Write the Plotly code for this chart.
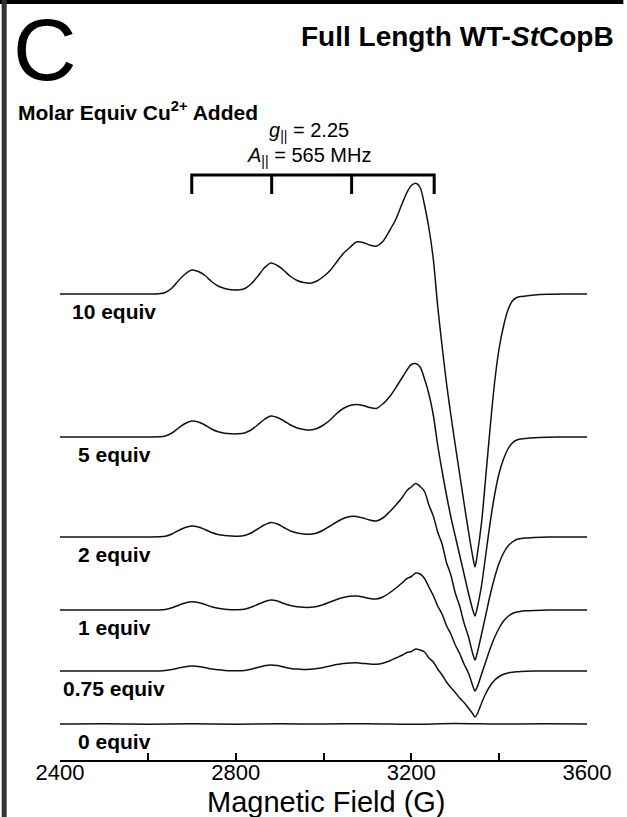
import plotly.graph_objects as go

# ---- EPR spectra: Cu2+ titration of full length WT-StCopB ----
# Magnetic field sampling (G), shared by all spectra
field = [2400, 2500, 2580, 2610,
         2625, 2640, 2655, 2670, 2685, 2700, 2715, 2730, 2745, 2760,
         2775, 2790, 2805, 2820, 2835, 2850, 2865, 2880, 2895, 2910,
         2925, 2940, 2955, 2970, 2985, 3000, 3015, 3030, 3045, 3060,
         3075, 3090, 3105, 3120, 3135, 3150, 3165, 3180,
         3190, 3200, 3210, 3220, 3230, 3240, 3250, 3260, 3270, 3280,
         3290, 3300, 3310, 3320, 3330, 3340, 3345, 3350, 3360, 3370,
         3380, 3390, 3400, 3410, 3420, 3430, 3440, 3450, 3460,
         3480, 3510, 3550, 3600]

# First-derivative signal (arb. units) for each Cu2+ loading
signal_10 = [0, 0, 0, 0,
             0.2, 1.5, 6, 13.5, 20, 24, 22.5, 18.5, 12.5, 8,
             5.5, 4.3, 4, 5.3, 10, 17.5, 26, 31, 28.5, 23.5,
             17.5, 13.5, 11.5, 10.8, 13, 17.5, 23.5, 32, 40.5, 46.5,
             52, 51.5, 49, 47.8, 52.5, 63, 75, 91.5,
             101.5, 108.5, 110.8, 106.5, 89, 66, 35, -12, -52, -89,
             -121, -151, -180, -209, -237, -263, -273, -261, -228, -180,
             -131, -87, -54, -32, -16, -7, -3.5, -2.5, -2,
             -1, -0.3, 0, 0]

signal_5 = [0, 0, 0, 0,
            0.2, 1, 4, 9, 13.5, 16, 15, 12, 8, 5.2,
            3.7, 3.2, 3.2, 4, 7, 12, 17.5, 21, 19.5, 16,
            12, 9, 7.5, 7, 8.5, 12, 17, 23.5, 28.5, 31.5,
            32.5, 31.5, 29.5, 28.5, 33, 40, 49.5, 60,
            67, 72.5, 73.5, 70, 58, 43, 22, -8, -34, -58,
            -80, -99, -118, -137, -156, -173, -179, -171, -148, -116,
            -84, -57, -36, -22, -12, -6, -3, -2, -1.5,
            -0.8, -0.3, 0, 0]

signal_2 = [0, 0, 0, 0,
            0.2, 0.8, 3, 6.5, 9.5, 11, 10, 7.5, 4.5, 2.5,
            1.5, 1, 0.8, 1.5, 4, 8, 12, 14.5, 13, 9.5,
            6, 4, 3, 2.8, 4, 7, 11, 15, 18.5, 20.5,
            20.5, 19, 17, 16, 19, 25, 32, 40,
            46.5, 50, 53.5, 50.5, 45.5, 32, 21, 5, -7, -25.5,
            -38, -56, -69, -86, -99.5, -117, -123, -116, -97, -77,
            -57, -40, -26, -16, -9, -5, -2.5, -1.5, -1,
            -0.5, 0, 0, 0]

signal_1 = [0, 0, 0, 0,
            0.1, 0.6, 2.2, 4.8, 7, 8.3, 7.5, 5.5, 3.3, 1.8,
            0.8, 0.3, 0.2, 0.8, 2.8, 5.5, 8.3, 10, 9, 6.5,
            4.5, 3.2, 2.7, 2.7, 3.6, 5.5, 8, 10.5, 12.5, 13.7,
            14, 13, 11.5, 11, 13, 17, 22, 27.5,
            31.5, 33.5, 37, 36, 31.5, 23, 14.5, 4, -4, -15.5,
            -24, -35, -43.5, -54, -63, -76, -81, -77, -64, -51,
            -38, -27, -18, -11, -6.5, -3.5, -2, -1.2, -0.8,
            -0.4, 0, 0, 0]

signal_075 = [0, 0, 0, 0,
              0, 0.4, 1.4, 3, 4.3, 5, 4.6, 3.4, 2, 1.2,
              0.6, 0.3, 0.2, 0.6, 1.8, 3.5, 5.2, 6, 5.4, 3.9,
              2.6, 1.9, 1.6, 1.7, 2.4, 3.6, 5, 6.4, 7.5, 8.1,
              8.3, 7.6, 6.9, 6.7, 7.8, 10, 13, 16,
              18.5, 19.5, 22, 21, 19, 13, 9, 2, -4, -11,
              -16.5, -21.5, -27, -31.5, -37, -43, -46, -43, -32, -22,
              -14.5, -9, -5.5, -3.2, -2, -1.2, -0.7, -0.4, -0.2,
              0, 0, 0, 0]

# Cu-free protein: flat baseline
field_zero = [2400, 2500, 2600, 2700, 2800, 2900, 3000, 3100, 3200, 3300,
              3400, 3500, 3600]
signal_0 = [0, 0.3, -0.2, 0.2, -0.3, 0.2, 0, 0.3, -0.2, 0.4, -0.1, 0.2, 0]

spectrum_labels = ["10 equiv", "5 equiv", "2 equiv", "1 equiv", "0.75 equiv", "0 equiv"]
spectrum_fields = [field, field, field, field, field, field_zero]
spectrum_signals = [signal_10, signal_5, signal_2, signal_1, signal_075, signal_0]
spectrum_offsets = [466, 323, 223, 150, 89, 36]

for f, s in zip(spectrum_fields, spectrum_signals):
    assert len(f) == len(s)

# Parallel hyperfine quartet (G)
hyperfine_fields = [2700, 2882, 3064, 3252]
stick_top = 585
stick_bottom = 566

major_ticks = [2400, 2800, 3200, 3600]
minor_ticks = [2600, 3000, 3400]

FONT = "Arial, Liberation Sans, sans-serif"
INK = "#111111"

fig = go.Figure()

for fields, sig, off in zip(spectrum_fields, spectrum_signals, spectrum_offsets):
    fig.add_trace(go.Scatter(
        x=fields, y=[v + off for v in sig], mode="lines",
        line=dict(color=INK, width=1.5, shape="spline", smoothing=0.8),
        hoverinfo="skip", showlegend=False))

# stick diagram for the g-parallel hyperfine lines
sx = [hyperfine_fields[0], hyperfine_fields[0], hyperfine_fields[-1], hyperfine_fields[-1]]
sy = [stick_bottom, stick_top, stick_top, stick_bottom]
for f in hyperfine_fields[1:-1]:
    sx += [None, f, f]
    sy += [None, stick_top, stick_bottom]
fig.add_trace(go.Scatter(x=sx, y=sy, mode="lines",
                         line=dict(color="black", width=3),
                         hoverinfo="skip", showlegend=False))

annotations = []
for label, off in zip(spectrum_labels, spectrum_offsets):
    annotations.append(dict(
        x=2523, y=off - 17, xref="x", yref="y", text=f"<b>{label}</b>",
        showarrow=False, xanchor="center", yanchor="middle",
        font=dict(family=FONT, size=21, color="black")))

hf_center = (hyperfine_fields[0] + hyperfine_fields[-1]) / 2
annotations += [
    dict(x=hf_center - 8, y=629, xref="x", yref="y",
         text="<i>g</i><sub>||</sub> = 2.25", showarrow=False,
         xanchor="center", yanchor="middle",
         font=dict(family=FONT, size=20, color="black")),
    dict(x=hf_center - 8, y=604, xref="x", yref="y",
         text="<i>A</i><sub>||</sub> = 565 MHz", showarrow=False,
         xanchor="center", yanchor="middle",
         font=dict(family=FONT, size=20, color="black")),
    dict(x=-0.0285, y=0.9355, xref="paper", yref="paper", text="C",
         showarrow=False, xanchor="center", yanchor="middle",
         font=dict(family=FONT, size=88, color="black")),
    dict(x=1.055, y=0.952, xref="paper", yref="paper",
         text="<b>Full Length WT-<i>St</i>CopB</b>", showarrow=False,
         xanchor="right", yanchor="middle",
         font=dict(family=FONT, size=28, color="black")),
    dict(x=-0.0835, y=0.854, xref="paper", yref="paper",
         text="<b>Molar Equiv Cu<sup>2+</sup> Added</b>", showarrow=False,
         xanchor="left", yanchor="middle",
         font=dict(family=FONT, size=21, color="black")),
    # x-axis title
    dict(x=0.505, y=-0.055, xref="paper", yref="paper",
         text="Magnetic Field (G)", showarrow=False,
         xanchor="center", yanchor="middle",
         font=dict(family=FONT, size=29, color="black")),
]

shapes = [
    # panel frame: top rule and left rule
    dict(type="rect", xref="paper", yref="paper",
         x0=-0.114, x1=1.069, y0=0.9947, y1=1.0,
         fillcolor="black", line=dict(width=0)),
    dict(type="rect", xref="paper", yref="paper",
         x0=-0.1107, x1=-0.1012, y0=-0.076, y1=1.0,
         fillcolor="#333333", line=dict(width=0)),
]

fig.update_layout(
    width=627, height=817, autosize=False,
    margin=dict(l=60, r=40, t=0, b=57),
    paper_bgcolor="white", plot_bgcolor="white",
    font=dict(family=FONT, color="black"),
    annotations=annotations, shapes=shapes,
    xaxis=dict(
        range=[2400, 3600], showgrid=False, zeroline=False,
        showline=True, linecolor="black", linewidth=2,
        ticks="inside", ticklen=7, tickwidth=2, tickcolor="black",
        tickvals=major_ticks, ticktext=[str(t) for t in major_ticks],
        ticklabelstandoff=-8,
        minor=dict(tickvals=minor_ticks, ticks="inside", ticklen=7,
                   tickwidth=2, tickcolor="black", showgrid=False),
        tickfont=dict(family=FONT, size=22, color="black"),
    ),
    yaxis=dict(range=[0, 760], visible=False, fixedrange=True),
)

fig.write_html("out.html")
